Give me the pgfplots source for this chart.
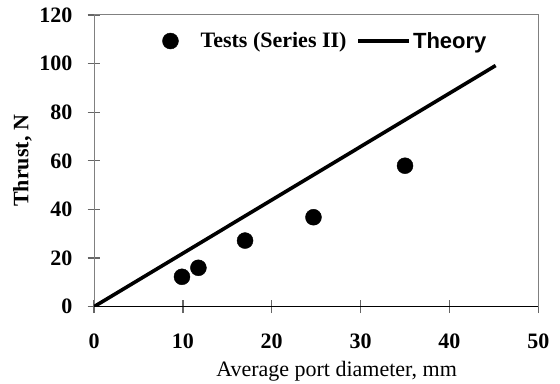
\documentclass[border=0pt]{standalone}
\usepackage{fontspec}
\setmainfont{Liberation Serif}
\newfontfamily\arialfont{Liberation Sans}
\usepackage{pgfplots}
\pgfplotsset{compat=1.18}
\begin{document}
\begin{tikzpicture}
\useasboundingbox (0,0) rectangle (560bp,384bp);
\begin{axis}[
  at={(94bp,77.3bp)}, anchor=south west,
  scale only axis, width=444.3bp, height=291.7bp,
  xmin=0, xmax=50, ymin=0, ymax=120,
  xtick={0,10,...,50}, ytick={0,20,...,120},
  xtick pos=bottom, ytick pos=left,
  /pgf/number format/assume math mode=true,
  font=\fontsize{22bp}{26bp}\selectfont,
  ticklabel style={font=\fontsize{22bp}{26bp}\selectfont\bfseries},
  axis line style={black!50, line width=1bp},
  tick align=center, major tick length=13bp,
  every tick/.style={black!60, line width=1.3bp},
  xticklabel style={anchor=north, inner sep=0pt},
  xticklabel shift=20bp,
  yticklabel style={anchor=east, inner sep=0pt},
  yticklabel shift=15bp,
  xlabel={Average port diameter, mm},
  xlabel style={at={(axis description cs:0.546,0)}, anchor=north, yshift=-54bp, inner sep=0pt},
  ylabel={\bfseries Thrust, N},
  ylabel style={at={(axis description cs:-0.161,0.5)}, anchor=center, inner sep=0pt},
  legend columns=2,
  legend style={draw=none, fill=none, inner sep=0pt, at={(axis cs:7.66,109.3)}, anchor=west,
    nodes={inner sep=0pt, anchor=west},
    /tikz/column 1/.style={column sep=22bp},
    /tikz/column 2/.style={column sep=10bp},
    /tikz/column 3/.style={column sep=2bp}},
]
\addplot[only marks, mark=*, mark size=8bp, black,
  legend image code/.code={\fill[black] (0bp,0bp) circle (8bp);}]
  coordinates {(9.9,12.3) (11.75,16.0) (17.0,27.2) (24.7,36.8) (35.0,58.0)};
\addlegendentry{\bfseries Tests (Series II)}
\addplot[black, line width=3.6bp, no marks,
  legend image code/.code={\draw[black, line width=3.6bp] (0bp,0bp) -- (51bp,0bp);}]
  coordinates {(0,0) (45.2,99.2)};
\addlegendentry{\arialfont\bfseries Theory}
\draw[black, line width=1bp] (axis cs:0,0) -- (axis cs:50,0);
\end{axis}
\end{tikzpicture}
\end{document}
